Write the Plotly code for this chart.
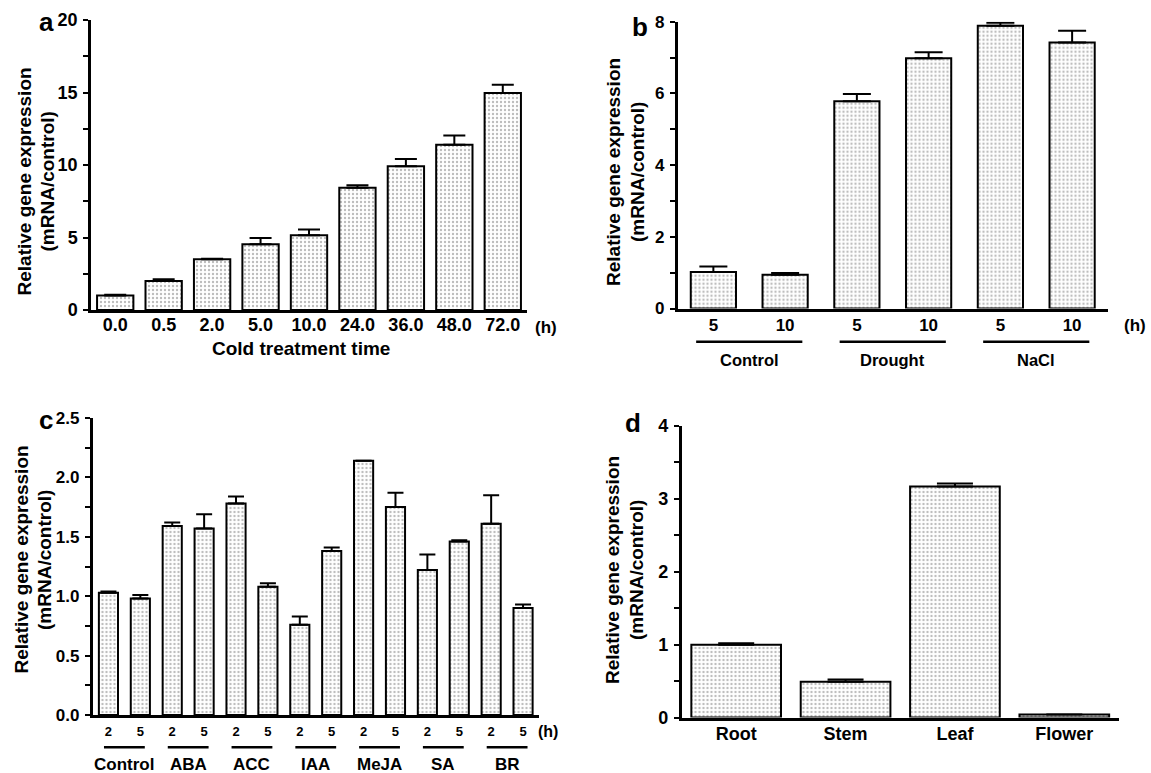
import plotly.graph_objects as go

W, H = 1151, 773
FONT = "Liberation Sans, Arial, Helvetica, sans-serif"

# ---------------- data ----------------
a_labels = ["0.0", "0.5", "2.0", "5.0", "10.0", "24.0", "36.0", "48.0", "72.0"]
a_values = [1.0, 2.0, 3.5, 4.53, 5.15, 8.43, 9.92, 11.39, 14.96]
a_errors = [0.05, 0.12, 0.03, 0.43, 0.40, 0.17, 0.50, 0.64, 0.57]

b_times = ["5", "10", "5", "10", "5", "10"]
b_groups = ["Control", "Drought", "NaCl"]
b_values = [1.02, 0.94, 5.78, 6.98, 7.89, 7.42]
b_errors = [0.15, 0.05, 0.20, 0.17, 0.08, 0.33]

c_times = ["2", "5"] * 7
c_groups = ["Control", "ABA", "ACC", "IAA", "MeJA", "SA", "BR"]
c_values = [1.03, 0.98, 1.59, 1.57, 1.78, 1.08, 0.76, 1.38, 2.14, 1.75, 1.22, 1.46, 1.61, 0.90]
c_errors = [0.01, 0.03, 0.03, 0.12, 0.06, 0.03, 0.07, 0.03, 0.0, 0.12, 0.13, 0.01, 0.24, 0.03]

d_labels = ["Root", "Stem", "Leaf", "Flower"]
d_values = [1.0, 0.49, 3.17, 0.04]
d_errors = [0.02, 0.03, 0.04, 0.0]

y_title_1 = "Relative gene expression"
y_title_2 = "(mRNA/control)"


def fx(p):
    return p / W


def fy(p):
    return 1 - p / H


fig = go.Figure()


def bar_marker():
    return dict(
        color="white",
        line=dict(color="black", width=2),
        pattern=dict(shape=".", fgcolor="#7a7a7a", bgcolor="white", size=4, solidity=0.28),
    )


def add_bars(x, y, err, n, width, capw):
    suffix = "" if n == 1 else str(n)
    fig.add_trace(
        go.Bar(
            x=x, y=y, width=width, marker=bar_marker(),
            error_y=dict(type="data", symmetric=False, array=err, arrayminus=[0] * len(err),
                         color="black", thickness=2, width=capw),
            xaxis="x" + suffix, yaxis="y" + suffix,
            showlegend=False, hoverinfo="skip",
        )
    )


add_bars(a_labels, a_values, a_errors, 1, 0.75, 11)
add_bars(list(range(len(b_values))), b_values, b_errors, 2, 0.63, 14)
add_bars(list(range(len(c_values))), c_values, c_errors, 3, 0.6, 8)
add_bars(d_labels, d_values, d_errors, 4, 0.82, 18)


def yaxis_cfg(domain, rng, dtick, mdtick, fmt, anchor, size):
    return dict(
        domain=domain, range=rng, anchor=anchor, tick0=0, dtick=dtick, tickformat=fmt,
        showline=True, linewidth=2.5, linecolor="black",
        ticks="outside", ticklen=5, tickwidth=2, tickcolor="black",
        minor=dict(tick0=0, dtick=mdtick, ticks="outside", ticklen=5, tickwidth=2, tickcolor="black", showgrid=False),
        showgrid=False, zeroline=False, ticklabelstandoff=2, automargin=False,
        tickfont=dict(family=FONT, size=size, color="black", weight="bold"),
        fixedrange=True,
    )


def xaxis_cfg(domain, n, anchor, size, standoff, tickvals=None, ticktext=None, cat=False):
    cfg = dict(
        domain=domain, range=[-0.5, n - 0.5], anchor=anchor,
        showline=True, linewidth=2.5, linecolor="black", ticks="", showgrid=False, zeroline=False,
        tickfont=dict(family=FONT, size=size, color="black", weight="bold"),
        ticklabelstandoff=standoff, automargin=False, fixedrange=True,
    )
    if cat:
        cfg["type"] = "category"
    else:
        cfg["tickmode"] = "array"
        cfg["tickvals"] = tickvals
        cfg["ticktext"] = ticktext
    return cfg


layout = dict(
    width=W, height=H, autosize=False,
    margin=dict(l=0, r=0, t=0, b=0, pad=0),
    paper_bgcolor="white", plot_bgcolor="white",
    font=dict(family=FONT, color="black"),
    xaxis=xaxis_cfg([fx(91), fx(527)], len(a_values), "y", 18, -3, cat=True),
    yaxis=yaxis_cfg([fy(310), fy(20)], [0, 20], 5, 2.5, "d", "x", 18),
    xaxis2=xaxis_cfg([fx(677.5), fx(1108)], len(b_values), "y2", 17, -1,
                     tickvals=list(range(len(b_values))), ticktext=b_times),
    yaxis2=yaxis_cfg([fy(308.5), fy(21.7)], [0, 8], 2, 1, "d", "x2", 17),
    xaxis3=xaxis_cfg([fx(92.5), fx(539)], len(c_values), "y3", 13, 3,
                     tickvals=list(range(len(c_values))), ticktext=c_times),
    yaxis3=yaxis_cfg([fy(715), fy(418)], [0, 2.5], 0.5, 0.25, ".1f", "x3", 17),
    xaxis4=xaxis_cfg([fx(681.5), fx(1119)], len(d_values), "y4", 18, -2, cat=True),
    yaxis4=yaxis_cfg([fy(717.5), fy(426)], [0, 4], 1, 0.5, "d", "x4", 18),
)
fig.update_layout(**layout)

ann = []


def text_at(px, py, text, size, angle=0):
    ann.append(dict(x=fx(px), y=fy(py), xref="paper", yref="paper", text=text, showarrow=False,
                    xanchor="center", yanchor="middle", textangle=angle,
                    font=dict(family=FONT, size=size, color="black", weight="bold")))


# y-axis titles (two lines each)
for (x1, x2, yc) in [(23.5, 46.5, 182), (614, 638, 172), (20.5, 44, 560), (612, 636, 570)]:
    text_at(x1, yc, y_title_1, 19, -90)
    text_at(x2, yc, y_title_2, 19, -90)

# panel letters
text_at(46, 22, "a", 26)
text_at(640, 27, "b", 26)
text_at(46, 420, "c", 26)
text_at(633, 423, "d", 26)

# unit labels
text_at(546, 327, "(h)", 17)
text_at(1135, 325, "(h)", 17)
text_at(548, 731, "(h)", 16)

text_at(301, 348, "Cold treatment time", 19)

shapes = []
# group labels & lines for panel b
for i, g in enumerate(b_groups):
    cx = 2 * i + 0.5
    shapes.append(dict(type="line", xref="x2", yref="paper", x0=cx - 0.74, x1=cx + 0.74,
                       y0=fy(341.7), y1=fy(341.7), line=dict(color="black", width=2.5)))
    ann.append(dict(x=cx, y=fy(360), xref="x2", yref="paper", text=g, showarrow=False,
                    xanchor="center", yanchor="middle",
                    font=dict(family=FONT, size=16.5, color="black", weight="bold")))

# group labels & lines for panel c
for i, g in enumerate(c_groups):
    cx = 2 * i + 0.5
    shapes.append(dict(type="line", xref="x3", yref="paper", x0=cx - 0.64, x1=cx + 0.64,
                       y0=fy(747.3), y1=fy(747.3), line=dict(color="black", width=2.5)))
    ann.append(dict(x=cx, y=fy(764), xref="x3", yref="paper", text=g, showarrow=False,
                    xanchor="center", yanchor="middle",
                    font=dict(family=FONT, size=17, color="black", weight="bold")))

fig.update_layout(annotations=ann, shapes=shapes)

fig.write_html(
    "out.html",
    config={"displayModeBar": False},
    post_script="document.body.style.margin='0';document.body.style.overflow='hidden';",
)
